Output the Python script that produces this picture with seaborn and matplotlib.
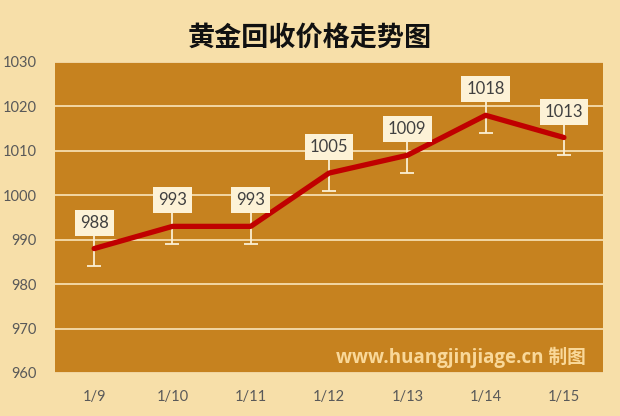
import matplotlib
matplotlib.use("Agg")
import matplotlib.pyplot as plt
import seaborn as sns
import pandas as pd

dates = ["1/9", "1/10", "1/11", "1/12", "1/13", "1/14", "1/15"]
prices = [988, 993, 993, 1005, 1009, 1018, 1013]
err = [4, 4, 4, 4, 4, 4, 4]
yticks = [960, 970, 980, 990, 1000, 1010, 1020, 1030]
title = "黄金回收价格走势图"
watermark = "www.huangjinjiage.cn 制图"

sns.set_theme(style="white")
plt.rcParams['font.family'] = ['Lato', 'Noto Sans CJK SC', 'DejaVu Sans']

BG = "#F7DFA9"
PLOT = "#C6821F"
GRID = "#F5DDAE"
LINE = "#C00000"
BOX = "#FDF2D6"
TXT = "#595959"

df = pd.DataFrame({"date": dates, "price": prices})
df["x"] = range(len(dates))

fig = plt.figure(figsize=(6.2, 4.16), dpi=100, facecolor=BG)
ax = fig.add_axes([0.0887, 0.1034, 0.884, 0.7476])
ax.set_facecolor(PLOT)

ax.errorbar(df["x"], df["price"], yerr=err, fmt="none", ecolor="#FBEFD3",
            elinewidth=1.3, capsize=5, capthick=1.3, zorder=3)
sns.lineplot(data=df, x="x", y="price", ax=ax, color=LINE, linewidth=3.8,
             zorder=4, legend=False)

for xi, v in zip(df["x"], prices):
    ax.annotate(str(v), (xi, v), xytext=(0, 26), textcoords="offset pixels",
                ha="center", va="center", fontsize=12, color="#404040",
                bbox=dict(boxstyle="square,pad=0.3", fc=BOX, ec="none"), zorder=6)

ax.set_xlim(-0.5, len(dates) - 0.5)
ax.set_ylim(960, 1030)
ax.set_yticks(yticks)
ax.set_yticklabels([str(t) for t in yticks])
ax.set_xticks(df["x"])
ax.set_xticklabels(dates)
ax.tick_params(axis="y", length=0, pad=13, labelsize=10.5, labelcolor=TXT)
ax.tick_params(axis="x", length=0, pad=12, labelsize=10.5, labelcolor=TXT)
ax.set_xlabel("")
ax.set_ylabel("")
ax.grid(axis="y", color=GRID, linewidth=1.3, zorder=1)
ax.set_axisbelow(True)
for s in ax.spines.values():
    s.set_visible(False)

ax.text(0.969, 0.05, watermark, transform=ax.transAxes, ha="right", va="center",
        fontsize=13.5, fontweight="bold", color="#F9D899",
        family=['Open Sans', 'Noto Sans CJK SC'], zorder=7)

fig.text(0.5, 0.909, title, ha="center", va="center", fontsize=19.5, fontweight="bold",
         color="#111111", family=['Noto Sans CJK SC'])

fig.savefig("out.png", dpi=100, facecolor=BG)
